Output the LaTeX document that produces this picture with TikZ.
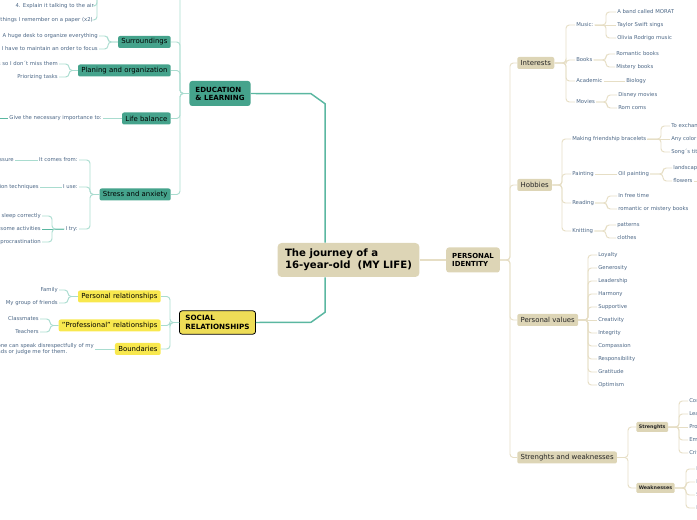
\documentclass[tikz,border=0pt]{standalone}
\usepackage{fontspec}
\setmainfont{DejaVu Sans}
\usepackage{tikz}
\definecolor{idbeige}{HTML}{DDD5B6}
\definecolor{idline}{HTML}{E6DEC5}
\definecolor{edugreen}{HTML}{45A38C}
\definecolor{eduline}{HTML}{A9DCCF}
\definecolor{edumain}{HTML}{5BB7A1}
\definecolor{socyellow}{HTML}{EEDD57}
\definecolor{socsub}{HTML}{F8E84E}
\definecolor{leafblue}{HTML}{4B6685}

\begin{document}
\begin{tikzpicture}[x=0.75pt, y=-0.75pt,
  rleaf/.style={anchor=west, font=\fontsize{4}{4.9}\selectfont, text=leafblue, inner sep=0.75pt},
  lleaf/.style={rleaf, anchor=east},
  topbox/.style={rounded corners=2pt, align=left, text=black, font=\bfseries\fontsize{5.2}{6.2}\selectfont, inner xsep=4.5pt, minimum height=18.75pt},
  idbox/.style={anchor=west, fill=idbeige, rounded corners=1.5pt, text=black!85, font=\fontsize{5.2}{6}\selectfont, inner xsep=2.5pt, inner ysep=0pt, minimum height=9pt},
  idsmall/.style={anchor=west, fill=idbeige, rounded corners=1pt, text=black!85, font=\bfseries\fontsize{3.6}{4.3}\selectfont, inner xsep=1.9pt, inner ysep=0pt, minimum height=7.5pt},
  edubox/.style={idbox, anchor=east, fill=edugreen, text=black},
  socbox/.style={idbox, anchor=east, fill=socsub, text=black},
  idlink/.style={draw=idline, line width=0.7pt, rounded corners=2.5pt},
  edulink/.style={draw=eduline, line width=0.7pt, rounded corners=2.5pt}]
\useasboundingbox (0,0) rectangle (697,520);
\clip (0,0) rectangle (697,520);

% --- Central topic ---
\node[fill=idbeige, rounded corners=3pt, align=left, font=\bfseries\fontsize{7.6}{9}\selectfont, inner xsep=5.6pt, minimum height=25.5pt] (life) at (348.5,260) {The journey of a\\16-year-old~ (MY LIFE)};

% --- Personal identity ---
\node[topbox, fill=idbeige] (identity) at (473,260) {PERSONAL\\IDENTITY};
\draw[idlink, line width=1.1pt] (life.east) -- (identity.west);

\node[idbox] (interests) at (517,63) {Interests};
\node[idbox] (hobbies) at (517,185) {Hobbies};
\node[idbox] (values) at (517,320) {Personal values};
\node[idbox] (strengths) at (517,457.5) {Strenghts and weaknesses};
\draw[idlink] (interests.west) -- ++(-7,0) |- (identity.east);
\draw[idlink] (hobbies.west) -- ++(-7,0) |- (identity.east);
\draw[idlink] (values.west) -- ++(-7,0) |- (identity.east);
\draw[idlink] (strengths.west) -- ++(-7,0) |- (identity.east);

% Interests
\node[rleaf] (music) at (575,25) {Music:};
\node[rleaf] (books) at (575,60) {Books};
\node[rleaf] (academic) at (575,81) {Academic};
\node[rleaf] (movies) at (575,102) {Movies};
\draw[idlink] (music.west) -- ++(-9,0) |- (interests.east);
\draw[idlink] (books.west) -- ++(-9,0) |- (interests.east);
\draw[idlink] (academic.west) -- ++(-9,0) |- (interests.east);
\draw[idlink] (movies.west) -- ++(-9,0) |- (interests.east);

\node[rleaf] (band) at (616,12) {A band called MORAT};
\node[rleaf] (taylor) at (616,25) {Taylor Swift sings};
\node[rleaf] (olivia) at (616,38) {Olivia Rodrigo music};
\draw[idlink] (band.west) -- ++(-10,0) |- (music.east);
\draw[idlink] (taylor.west) -- (music.east);
\draw[idlink] (olivia.west) -- ++(-10,0) |- (music.east);

\node[rleaf] (romantic) at (615,54) {Romantic books};
\node[rleaf] (mistery) at (615,67) {Mistery books};
\draw[idlink] (romantic.west) -- ++(-9,0) |- (books.east);
\draw[idlink] (mistery.west) -- ++(-9,0) |- (books.east);

\node[rleaf] (biology) at (625,81) {Biology};
\draw[idlink] (biology.west) -- (academic.east);

\node[rleaf] (disney) at (617,95) {Disney movies};
\node[rleaf] (romcoms) at (617,108) {Rom coms};
\draw[idlink] (disney.west) -- ++(-10,0) |- (movies.east);
\draw[idlink] (romcoms.west) -- ++(-10,0) |- (movies.east);

% Hobbies
\node[rleaf] (bracelets) at (571,139) {Making friendship bracelets};
\node[rleaf] (painting) at (571,174) {Painting};
\node[rleaf] (reading) at (571,203) {Reading};
\node[rleaf] (knitting) at (571,231) {Knitting};
\draw[idlink] (bracelets.west) -- ++(-9,0) |- (hobbies.east);
\draw[idlink] (painting.west) -- ++(-9,0) |- (hobbies.east);
\draw[idlink] (reading.west) -- ++(-9,0) |- (hobbies.east);
\draw[idlink] (knitting.west) -- ++(-9,0) |- (hobbies.east);

\node[rleaf] (exchange) at (670,126) {To exchange};
\node[rleaf] (anycolor) at (670,139) {Any color};
\node[rleaf] (songs) at (670,152) {Song´s titles};
\draw[idlink] (exchange.west) -- ++(-9,0) |- (bracelets.east);
\draw[idlink] (anycolor.west) -- (bracelets.east);
\draw[idlink] (songs.west) -- ++(-9,0) |- (bracelets.east);

\node[rleaf] (oil) at (617,174) {Oil painting};
\draw[idlink] (oil.west) -- (painting.east);
\node[rleaf] (landscapes) at (672,168) {landscapes};
\node[rleaf] (flowers) at (672,181) {flowers};
\coordinate (flowersmore) at (720,181);
\draw[idlink] (landscapes.west) -- ++(-9,0) |- (oil.east);
\draw[idlink] (flowers.west) -- ++(-9,0) |- (oil.east);
\draw[idlink] (flowers.east) -- (flowersmore);

\node[rleaf] (freetime) at (617,196) {In free time};
\node[rleaf] (romance) at (617,209) {romantic or mistery books};
\draw[idlink] (freetime.west) -- ++(-10,0) |- (reading.east);
\draw[idlink] (romance.west) -- ++(-10,0) |- (reading.east);

\node[rleaf] (patterns) at (616,225) {patterns};
\node[rleaf] (clothes) at (616,238) {clothes};
\draw[idlink] (patterns.west) -- ++(-10,0) |- (knitting.east);
\draw[idlink] (clothes.west) -- ++(-10,0) |- (knitting.east);

% Personal values
\node[rleaf] (loyalty) at (597,255) {Loyalty};
\node[rleaf] (generosity) at (597,268) {Generosity};
\node[rleaf] (leadership) at (597,281) {Leadership};
\node[rleaf] (harmony) at (597,294) {Harmony};
\node[rleaf] (supportive) at (597,307) {Supportive};
\node[rleaf] (creativity) at (597,320) {Creativity};
\node[rleaf] (integrity) at (597,333) {Integrity};
\node[rleaf] (compassion) at (597,346) {Compassion};
\node[rleaf] (responsibility) at (597,359) {Responsibility};
\node[rleaf] (gratitude) at (597,372) {Gratitude};
\node[rleaf] (optimism) at (597,385) {Optimism};
\draw[idlink] (loyalty.west) -- ++(-9,0) |- (values.east);
\draw[idlink] (generosity.west) -- ++(-9,0) |- (values.east);
\draw[idlink] (leadership.west) -- ++(-9,0) |- (values.east);
\draw[idlink] (harmony.west) -- ++(-9,0) |- (values.east);
\draw[idlink] (supportive.west) -- ++(-9,0) |- (values.east);
\draw[idlink] (creativity.west) -- (values.east);
\draw[idlink] (integrity.west) -- ++(-9,0) |- (values.east);
\draw[idlink] (compassion.west) -- ++(-9,0) |- (values.east);
\draw[idlink] (responsibility.west) -- ++(-9,0) |- (values.east);
\draw[idlink] (gratitude.west) -- ++(-9,0) |- (values.east);
\draw[idlink] (optimism.west) -- ++(-9,0) |- (values.east);

% Strenghts and weaknesses
\node[idsmall] (strong) at (636,427) {Strenghts};
\node[idsmall] (weak) at (636,488) {Weaknesses};
\draw[idlink] (strong.west) -- ++(-8,0) |- (strengths.east);
\draw[idlink] (weak.west) -- ++(-8,0) |- (strengths.east);

\node[rleaf] (communication) at (688,401) {Communication};
\node[rleaf] (learning) at (688,414) {Learning};
\node[rleaf] (problems) at (688,427) {Problem solving};
\node[rleaf] (empathy) at (688,440) {Empathy};
\node[rleaf] (critical) at (688,453) {Critical thinking};
\draw[idlink] (communication.west) -- ++(-9,0) |- (strong.east);
\draw[idlink] (learning.west) -- ++(-9,0) |- (strong.east);
\draw[idlink] (problems.west) -- (strong.east);
\draw[idlink] (empathy.west) -- ++(-9,0) |- (strong.east);
\draw[idlink] (critical.west) -- ++(-9,0) |- (strong.east);

\node[rleaf] (perfection) at (695,469) {Perfectionism};
\node[rleaf] (insecurity) at (695,482) {Insecurity};
\node[rleaf] (shyness) at (695,495) {Shyness};
\node[rleaf] (impatience) at (695,508) {Impatience};
\draw[idlink] (perfection.west) -- ++(-9,0) |- (weak.east);
\draw[idlink] (insecurity.west) -- ++(-9,0) |- (weak.east);
\draw[idlink] (shyness.west) -- ++(-9,0) |- (weak.east);
\draw[idlink] (impatience.west) -- ++(-9,0) |- (weak.east);

% --- Education & learning ---
\node[topbox, fill=edugreen, font=\bfseries\fontsize{5.3}{6}\selectfont] (education) at (220,93.5) {EDUCATION\\\& LEARNING};
\draw[draw=edumain, line width=1.1pt] ([xshift=-17.6pt]life.north) -- ++(0,-139) -- ++(-14,-10) -- (education.east);

\coordinate (studytech) at (171,-20);
\node[edubox] (surroundings) at (171,42) {Surroundings};
\node[edubox] (planing) at (171,70.5) {Planing and organization};
\node[edubox] (balance) at (171,118.5) {Life balance};
\node[edubox] (stress) at (171,194.5) {Stress and anxiety};
\draw[edulink] (studytech) -- ++(9,0) |- (education.west);
\draw[edulink] (surroundings.east) -- ++(9,0) |- (education.west);
\draw[edulink] (planing.east) -- ++(9,0) |- (education.west);
\draw[edulink] (balance.east) -- ++(9,0) |- (education.west);
\draw[edulink] (stress.east) -- ++(9,0) |- (education.west);

% study technique (parent above the page)
\coordinate (studyleaves) at (97,-25);
\node[lleaf] (explain) at (95,6) {4. Explain it talking to the air};
\node[lleaf] (paper) at (94,20) {Write the things I remember on a paper (x2)};
\draw[edulink] (explain.east) -| (studyleaves);
\draw[edulink] (paper.east) -| (studyleaves);

\node[lleaf] (desk) at (99,36) {A huge desk to organize everything};
\node[lleaf] (order) at (99,49) {I have to maintain an order to focus};
\draw[edulink] (desk.east) -- ++(9,0) |- (surroundings.west);
\draw[edulink] (order.east) -- ++(9,0) |- (surroundings.west);

\node[lleaf] (tasks) at (59,64) {Write down my tasks so I don´t miss them};
\node[lleaf] (priorizing) at (59,77) {Priorizing tasks};
\draw[edulink] (tasks.east) -- ++(10,0) |- (planing.west);
\draw[edulink] (priorizing.east) -- ++(10,0) |- (planing.west);

\node[lleaf] (importance) at (103,118.5) {Give the necessary importance to:};
\coordinate (importmore) at (-30,118.5);
\draw[edulink] (importance.east) -- (balance.west);
\draw[draw=edumain, line width=0.7pt] (importmore) -- (importance.west);

\node[lleaf] (comes) at (79,160) {It comes from:};
\node[lleaf] (iuse) at (79,187) {I use:};
\node[lleaf] (itry) at (79,229) {I try:};
\draw[edulink] (comes.east) -- ++(11,0) |- (stress.west);
\draw[edulink] (iuse.east) -- ++(11,0) |- (stress.west);
\draw[edulink] (itry.east) -- ++(11,0) |- (stress.west);

\node[lleaf] (pressure) at (15,160) {Academic pressure};
\draw[edulink] (pressure.east) -- (comes.west);
\node[lleaf] (techniques) at (40,187) {Relaxation techniques};
\draw[edulink] (techniques.east) -- (iuse.west);

\node[lleaf] (sleep) at (42,216) {Go to sleep correctly};
\node[lleaf] (activities) at (42,229) {Do some activities};
\node[lleaf] (procrast) at (42,242) {Avoid procrastination};
\draw[edulink] (sleep.east) -- ++(10,0) |- (itry.west);
\draw[draw=edumain, line width=0.7pt] (activities.east) -- (itry.west);
\draw[edulink] (procrast.east) -- ++(10,0) |- (itry.west);

% --- Social relationships ---
\node[topbox, fill=socyellow, draw=black, line width=0.6pt, font=\bfseries\fontsize{5.4}{6.75}\selectfont, minimum height=17.5pt] (social) at (217.5,322.5) {SOCIAL\\RELATIONSHIPS};
\draw[draw=edumain, line width=1.1pt] ([xshift=-17.6pt]life.south) -- ++(0,35) -- ++(-14,10) -- (social.east);

\node[socbox] (personal) at (161,296.5) {Personal relationships};
\node[socbox] (professional) at (161,325.5) {"Professional" relationships};
\node[socbox] (boundaries) at (161,349) {Boundaries};
\draw[edulink] (personal.east) -- ++(9,0) |- (social.west);
\draw[edulink] (professional.east) -- ++(9,0) |- (social.west);
\draw[edulink] (boundaries.east) -- ++(9,0) |- (social.west);

\node[lleaf] (family) at (59,290) {Family};
\node[lleaf] (friends) at (59,303) {My group of friends};
\draw[edulink] (family.east) -- ++(9,0) |- (personal.west);
\draw[edulink] (friends.east) -- ++(9,0) |- (personal.west);

\node[lleaf] (classmates) at (40,319) {Classmates};
\node[lleaf] (teachers) at (40,332) {Teachers};
\draw[edulink] (classmates.east) -- ++(10,0) |- (professional.west);
\draw[edulink] (teachers.east) -- ++(10,0) |- (professional.west);

\node[lleaf, align=left] (respect) at (95,349) {No one can speak disrespectfully of my\\friends or judge me for them.};
\draw[edulink] (respect.east) -- (boundaries.west);
\end{tikzpicture}
\end{document}
